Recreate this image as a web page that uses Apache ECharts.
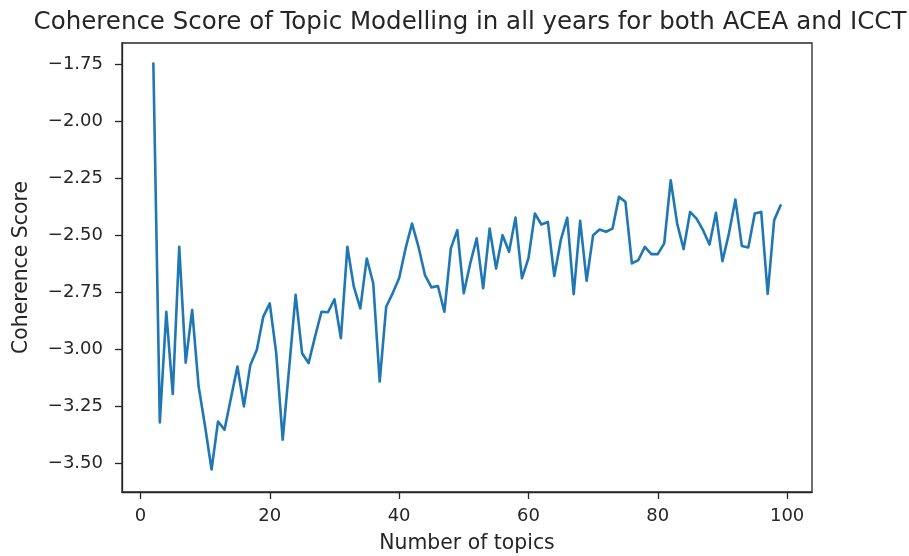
<!DOCTYPE html>
<html>
<head>
<meta charset="utf-8">
<script src="https://cdn.jsdelivr.net/npm/echarts@6/dist/echarts.min.js"></script>
<style>
html,body{margin:0;padding:0;background:#fff;}
#chart{width:909px;height:556px;}
</style>
</head>
<body>
<div id="chart"></div>
<script>
const topics = [];
for (let n = 2; n <= 99; n++) topics.push(n);
const scores = [
  -1.745, -3.319, -2.834, -3.194, -2.549, -3.057, -2.826, -3.162, -3.337, -3.526,
  -3.315, -3.351, -3.212, -3.074, -3.249, -3.067, -3.001, -2.855, -2.797, -3.016,
  -3.395, -3.080, -2.760, -3.016, -3.059, -2.943, -2.834, -2.836, -2.779, -2.950,
  -2.549, -2.724, -2.819, -2.600, -2.709, -3.140, -2.812, -2.753, -2.687, -2.556,
  -2.447, -2.549, -2.673, -2.727, -2.721, -2.834, -2.556, -2.476, -2.753, -2.622,
  -2.512, -2.731, -2.469, -2.644, -2.498, -2.571, -2.421, -2.687, -2.600, -2.403,
  -2.451, -2.440, -2.677, -2.520, -2.421, -2.757, -2.435, -2.698, -2.498, -2.473,
  -2.483, -2.469, -2.330, -2.352, -2.622, -2.607, -2.549, -2.581, -2.581,
  -2.534, -2.257, -2.447, -2.559, -2.396, -2.425, -2.476, -2.539, -2.400, -2.612,
  -2.491, -2.342, -2.545, -2.552, -2.403, -2.396, -2.756, -2.432, -2.367
];
const xTicks = [0, 20, 40, 60, 80, 100];
const yTicks = [-3.5, -3.25, -3.0, -2.75, -2.5, -2.25, -2.0, -1.75];

const chart = echarts.init(document.getElementById('chart'), null, {renderer: 'canvas'});
const font = 'DejaVu Sans';
const fmtY = v => (v < 0 ? '\u2212' : '') + Math.abs(v).toFixed(2);
chart.setOption({
  animation: false,
  backgroundColor: '#ffffff',
  title: {
    text: 'Coherence Score of Topic Modelling in all years for both ACEA and ICCT',
    left: 465, top: 5, textAlign: 'center',
    textStyle: {fontFamily: font, fontSize: 24.5, fontWeight: 'normal', color: '#262626'}
  },
  grid: {left: 122, right: 97, top: 43, bottom: 64, outerBoundsMode: 'none', containLabel: false,
         show: true, borderColor: '#262626', borderWidth: 1.3, backgroundColor: 'transparent'},
  xAxis: {
    type: 'value', min: -2.85, max: 103.85,
    name: 'Number of topics', nameLocation: 'middle', nameGap: 42,
    nameTextStyle: {fontFamily: font, fontSize: 20.4, color: '#262626'},
    axisLine: {show: true, onZero: false, lineStyle: {color: '#262626', width: 1.3}},
    axisTick: {show: true, length: 7, customValues: xTicks, lineStyle: {color: '#262626', width: 1.3}},
    axisLabel: {customValues: xTicks, margin: 15, fontFamily: font, fontSize: 18, color: '#262626'},
    splitLine: {show: false}
  },
  yAxis: {
    type: 'value', min: -3.6245, max: -1.655,
    name: 'Coherence Score', nameLocation: 'middle', nameGap: 90, nameRotate: 90,
    nameTextStyle: {fontFamily: font, fontSize: 20.4, color: '#262626'},
    axisLine: {show: true, onZero: false, lineStyle: {color: '#262626', width: 1.3}},
    axisTick: {show: true, length: 7, customValues: yTicks, lineStyle: {color: '#262626', width: 1.3}},
    axisLabel: {customValues: yTicks, margin: 19, fontFamily: font, fontSize: 18, color: '#262626', formatter: fmtY},
    splitLine: {show: false}
  },
  series: [{
    type: 'line',
    data: topics.map((t, i) => [t, scores[i]]),
    showSymbol: false,
    lineStyle: {color: '#1f77b4', width: 2.6, join: 'round', cap: 'round'},
    itemStyle: {color: '#1f77b4'}
  }]
});
</script>
</body>
</html>
